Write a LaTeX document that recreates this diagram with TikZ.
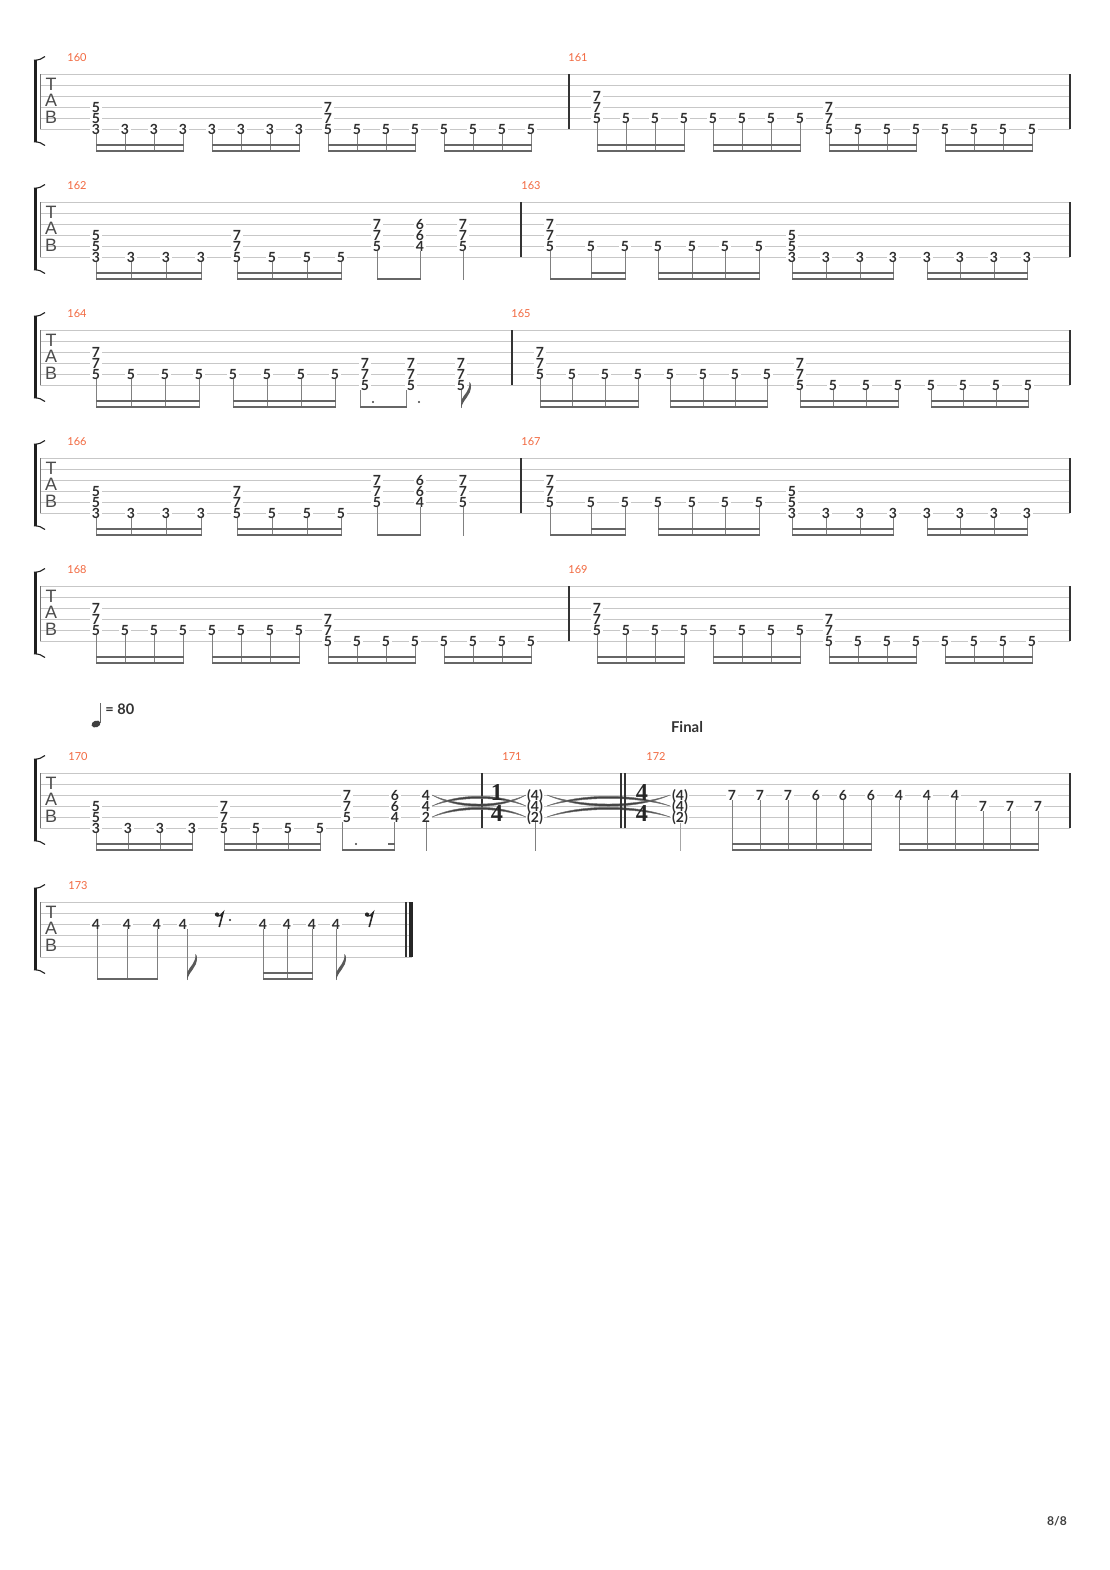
\documentclass[tikz,border=0pt]{standalone}
\usepackage{fontspec}
\usepackage{tikz}

\newfontfamily\latofam{Lato}
\newfontfamily\libsans{Liberation Sans}
\newfontfamily\libserif{Liberation Serif}
\newcommand{\fretfont}{\latofam\bfseries\fontsize{7.5}{8}\selectfont}
\newcommand{\mnumfont}{\latofam\fontsize{5.9}{6}\selectfont}
\newcommand{\tabfont}{\libsans\fontsize{9.6}{10}\selectfont}
\newcommand{\tsigfont}{\libserif\bfseries\fontsize{13}{13}\selectfont}
\definecolor{numorange}{RGB}{242,105,64}

\tikzset{
  staffline/.style={draw=black!22, line width=0.5pt},
  barline/.style={draw=black!80, line width=0.65pt},
  fret/.style={font=\fretfont, text=black!82, fill=white, inner xsep=0.8pt, inner ysep=0.1pt, text height=5.4pt, text depth=0pt},
  stem/.style={draw=black!50, line width=0.5pt},
  beam/.style={fill=black!60},
  mnum/.style={font=\mnumfont, text=numorange, inner sep=0pt},
  tabl/.style={font=\tabfont, text=black!70, inner sep=0pt},
  tsig/.style={font=\tsigfont, text=black!85, inner sep=0pt, text height=8.6pt, text depth=0pt},
  tiefill/.style={fill=black!75, draw=black!55, line width=0.25pt},
}

% staff with bracket and TAB letters
\newcommand{\tabstaff}[2]{%
  \foreach \k in {0,...,5} {\draw[staffline] (40,11*\k) -- (#2,11*\k);}
  \draw[staffline, draw=black!55] (40,0) -- (40,55);
  \fill[black!88] (33.5,-14) rectangle (36.5,68);
  \draw[black!88, line width=0.6pt] (34,-13.7) .. controls (39,-14) and (42,-15) .. (45,-17.5);
  \draw[black!88, line width=0.6pt] (34,67.7) .. controls (39,68) and (42,69) .. (45,71.5);
  \node[tabl] (#1T) at (51,10) {T};
  \node[tabl] (#1A) at (51,26.5) {A};
  \node[tabl] (#1B) at (51,43) {B};
}
\newcommand{\fretrow}[4]{\foreach \nx in {#3} {\node[fret] (#1-\nx-#2) at (\nx,{11*(#2-1)}) {#4};}}
\newcommand{\stemrow}[2]{\foreach \nx in {#2} {\draw[stem] (\nx,{11*(#1-1)+5}) -- (\nx,78.2);}}
\newcommand{\pbeam}[2]{\fill[beam] (#1-0.5,75.8) rectangle (#2+0.5,78.2);}
\newcommand{\sbeam}[2]{\fill[beam] (#1-0.5,69.8) rectangle (#2+0.5,72.2);}
\newcommand{\dbeam}[2]{\pbeam{#1}{#2}\sbeam{#1}{#2}}
\newcommand{\flagat}[1]{\fill[black!65] (#1,78.2) .. controls (#1+2,69) and (#1+10,66) .. (#1+10,56) .. controls (#1+10,54) and (#1+9.5,53) .. (#1+8.5,52) .. controls (#1+9,61) and (#1+3,64) .. (#1+0.4,70) -- cycle;}
\newcommand{\eighthrest}[1]{\fill[black!85] (#1,12.5) circle (2.1); \draw[black!85, line width=0.85pt] (#1,13.8) .. controls (#1+2.5,14.8) and (#1+4.5,13.2) .. (#1+6,10.8) -- (#1+2.2,25);}
\newcommand{\tiecurve}[5]{%
  \pgfmathsetmacro{\tca}{#1+0.28*(#2-#1)}%
  \pgfmathsetmacro{\tcb}{#2-0.28*(#2-#1)}%
  \filldraw[tiefill] (#1,#3) .. controls (\tca,#4) and (\tcb,#4) .. (#2,#3) .. controls (\tcb,#5) and (\tca,#5) .. (#1,#3) -- cycle;}
\newcommand{\tieset}[2]{\tiecurve{#1}{#2}{22}{37}{34}\tiecurve{#1}{#2}{33}{20}{23}\tiecurve{#1}{#2}{44}{31}{34}}

% measure 161 / 169
\newcommand{\barsixone}[1]{%
  \fretrow{#1}{3}{597}{7}
  \fretrow{#1}{4}{597}{7}
  \fretrow{#1}{5}{597,626,655,684,713,742,771,800}{5}
  \fretrow{#1}{4}{829}{7}
  \fretrow{#1}{5}{829}{7}
  \fretrow{#1}{6}{829,858,887,916,945,974,1003,1032}{5}
  \stemrow{5}{597,626,655,684,713,742,771,800}
  \stemrow{6}{829,858,887,916,945,974,1003,1032}
  \dbeam{597}{684}\dbeam{713}{800}\dbeam{829}{916}\dbeam{945}{1032}}

% measures 162-163 / 166-167
\newcommand{\barsixtwo}[1]{%
  \fretrow{#1}{4}{96}{5}
  \fretrow{#1}{5}{96}{5}
  \fretrow{#1}{6}{96,131,166,201}{3}
  \fretrow{#1}{4}{237}{7}
  \fretrow{#1}{5}{237}{7}
  \fretrow{#1}{6}{237,272,307,341}{5}
  \fretrow{#1}{3}{377,463}{7}
  \fretrow{#1}{4}{377,463}{7}
  \fretrow{#1}{5}{377,463}{5}
  \fretrow{#1}{3}{420}{6}
  \fretrow{#1}{4}{420}{6}
  \fretrow{#1}{5}{420}{4}
  \stemrow{6}{96,131,166,201,237,272,307,341}
  \stemrow{5}{377,420,463}
  \dbeam{96}{201}\dbeam{237}{341}\pbeam{377}{420}
  \draw[barline] (521,0) -- (521,55);
  \fretrow{#1}{3}{550}{7}
  \fretrow{#1}{4}{550}{7}
  \fretrow{#1}{5}{550,591,625,658,692,725,759}{5}
  \fretrow{#1}{4}{792}{5}
  \fretrow{#1}{5}{792}{5}
  \fretrow{#1}{6}{792,826,860,893,927,960,994,1027}{3}
  \stemrow{5}{550,591,625,658,692,725,759}
  \stemrow{6}{792,826,860,893,927,960,994,1027}
  \pbeam{550}{625}\sbeam{591}{625}\dbeam{658}{759}\dbeam{792}{893}\dbeam{927}{1027}
  \draw[barline] (1070,0) -- (1070,55);}

\begin{document}
\begin{tikzpicture}[x=0.5363pt,y=-0.5363pt]
\useasboundingbox (0,0) rectangle (1110,1570);
\fill[white] (0,0) rectangle (1110,1570);

% 160 - 161
\begin{scope}[shift={(0,74)}]
  \tabstaff{a}{1070}
  \node[mnum] (m160) at (77,-16) {160};
  \node[mnum] (m161) at (578,-16) {161};
  \fretrow{a}{4}{96}{5}
  \fretrow{a}{5}{96}{5}
  \fretrow{a}{6}{96,125,154,183,212,241,270,299}{3}
  \fretrow{a}{4}{328}{7}
  \fretrow{a}{5}{328}{7}
  \fretrow{a}{6}{328,357,386,415,444,473,502,531}{5}
  \stemrow{6}{96,125,154,183,212,241,270,299,328,357,386,415,444,473,502,531}
  \dbeam{96}{183}\dbeam{212}{299}\dbeam{328}{415}\dbeam{444}{531}
  \draw[barline] (569,0) -- (569,55);
  \barsixone{a}
  \draw[barline] (1070,0) -- (1070,55);
\end{scope}

% 162 - 163
\begin{scope}[shift={(0,202)}]
  \tabstaff{b}{1070}
  \node[mnum] (m162) at (77,-16) {162};
  \node[mnum] (m163) at (531,-16) {163};
  \barsixtwo{b}
\end{scope}

% 164 - 165
\begin{scope}[shift={(0,330)}]
  \tabstaff{c}{1070}
  \node[mnum] (m164) at (77,-16) {164};
  \node[mnum] (m165) at (521,-16) {165};
  \fretrow{c}{3}{96}{7}
  \fretrow{c}{4}{96}{7}
  \fretrow{c}{5}{96,131,165,199,233,267,301,335}{5}
  \fretrow{c}{4}{365,411,461}{7}
  \fretrow{c}{5}{365,411,461}{7}
  \fretrow{c}{6}{365,411,461}{5}
  \stemrow{5}{96,131,165,199,233,267,301,335}
  \stemrow{6}{360,406,461}
  \dbeam{96}{199}\dbeam{233}{335}\pbeam{360}{406}
  \fill[black!75] (373,72) circle (1.2);
  \fill[black!75] (419,72) circle (1.2);
  \flagat{461}
  \draw[barline] (512,0) -- (512,55);
  \fretrow{c}{3}{540}{7}
  \fretrow{c}{4}{540}{7}
  \fretrow{c}{5}{540,572,605,638,670,703,735,767}{5}
  \fretrow{c}{4}{800}{7}
  \fretrow{c}{5}{800}{7}
  \fretrow{c}{6}{800,833,866,898,931,963,996,1028}{5}
  \stemrow{5}{540,572,605,638,670,703,735,767}
  \stemrow{6}{800,833,866,898,931,963,996,1028}
  \dbeam{540}{638}\dbeam{670}{767}\dbeam{800}{898}\dbeam{931}{1028}
  \draw[barline] (1070,0) -- (1070,55);
\end{scope}

% 166 - 167
\begin{scope}[shift={(0,458)}]
  \tabstaff{d}{1070}
  \node[mnum] (m166) at (77,-16) {166};
  \node[mnum] (m167) at (531,-16) {167};
  \barsixtwo{d}
\end{scope}

% 168 - 169
\begin{scope}[shift={(0,586)}]
  \tabstaff{e}{1070}
  \node[mnum] (m168) at (77,-16) {168};
  \node[mnum] (m169) at (578,-16) {169};
  \fretrow{e}{3}{96}{7}
  \fretrow{e}{4}{96}{7}
  \fretrow{e}{5}{96,125,154,183,212,241,270,299}{5}
  \fretrow{e}{4}{328}{7}
  \fretrow{e}{5}{328}{7}
  \fretrow{e}{6}{328,357,386,415,444,473,502,531}{5}
  \stemrow{5}{96,125,154,183,212,241,270,299}
  \stemrow{6}{328,357,386,415,444,473,502,531}
  \dbeam{96}{183}\dbeam{212}{299}\dbeam{328}{415}\dbeam{444}{531}
  \draw[barline] (569,0) -- (569,55);
  \barsixone{e}
  \draw[barline] (1070,0) -- (1070,55);
\end{scope}

% tempo and section
\fill[black!75, rotate around={20:(96,724)}] (96,724) ellipse (4.6 and 3.3);
\draw[black!60, line width=0.5pt] (100.2,703) -- (100.2,723);
\node[font=\latofam\bfseries\fontsize{7.8}{8}\selectfont, text=black!80, anchor=west, inner sep=0pt] (bpm) at (105,709) {= 80};
\node[font=\latofam\bfseries\fontsize{8}{8}\selectfont, text=black!80, inner sep=0pt] (final) at (687,727) {Final};

% 170 - 172
\begin{scope}[shift={(0,773)}]
  \tabstaff{f}{1070}
  \node[mnum] (m170) at (78,-16) {170};
  \node[mnum] (m171) at (512,-16) {171};
  \node[mnum] (m172) at (656,-16) {172};
  \fretrow{f}{4}{96}{5}
  \fretrow{f}{5}{96}{5}
  \fretrow{f}{6}{96,128,160,192}{3}
  \fretrow{f}{4}{224}{7}
  \fretrow{f}{5}{224}{7}
  \fretrow{f}{6}{224,256,288,320}{5}
  \fretrow{f}{3}{347}{7}
  \fretrow{f}{4}{347}{7}
  \fretrow{f}{5}{347}{5}
  \fretrow{f}{3}{395}{6}
  \fretrow{f}{4}{395}{6}
  \fretrow{f}{5}{395}{4}
  \fretrow{f}{3}{426}{4}
  \fretrow{f}{4}{426}{4}
  \fretrow{f}{5}{426}{2}
  \stemrow{6}{96,128,160,192,224,256,288,320}
  \stemrow{5}{342,394,426}
  \dbeam{96}{192}\dbeam{224}{320}\pbeam{342}{394}\sbeam{388}{394}
  \fill[black!75] (356,71) circle (1.2);
  \draw[barline] (482,0) -- (482,55);
  \fretrow{f}{3}{535}{(4)}
  \fretrow{f}{4}{535}{(4)}
  \fretrow{f}{5}{535}{(2)}
  \stemrow{5}{535}
  \tieset{432}{526}
  \tieset{547}{670}
  \node[tsig] (ts1n) at (497,19.5) {1};
  \node[tsig] (ts1d) at (497,40) {4};
  \draw[barline] (621,0) -- (621,55);
  \draw[barline] (625,0) -- (625,55);
  \node[tsig] (ts2n) at (642,19.5) {4};
  \node[tsig] (ts2d) at (642,40) {4};
  \fretrow{f}{3}{680}{(4)}
  \fretrow{f}{4}{680}{(4)}
  \fretrow{f}{5}{680}{(2)}
  \draw[stem, draw=black!35] (680,50) -- (680,78.2);
  \fretrow{f}{3}{732,760,788}{7}
  \fretrow{f}{3}{816,843,871}{6}
  \fretrow{f}{3}{899,927,955}{4}
  \fretrow{f}{4}{983,1010,1038}{7}
  \stemrow{3}{732,760,788,816,843,871,899,927,955}
  \stemrow{4}{983,1010,1038}
  \dbeam{732}{871}\dbeam{899}{1038}
  \draw[barline] (1070,0) -- (1070,55);
\end{scope}

% 173
\begin{scope}[shift={(0,902)}]
  \tabstaff{g}{412}
  \node[mnum] (m173) at (78,-16) {173};
  \fretrow{g}{3}{96,127,157,183,263,287,312,336}{4}
  \stemrow{3}{97,127,157,187,263,287,312,336}
  \pbeam{97}{157}\dbeam{263}{312}
  \flagat{187}
  \flagat{336}
  \eighthrest{217}
  \fill[black!85] (230,18) circle (1.2);
  \eighthrest{367}
  \draw[barline] (406,0) -- (406,55);
  \fill[black!85] (408.5,0) rectangle (412.5,55);
\end{scope}

\node[font=\latofam\bfseries\fontsize{6.5}{7}\selectfont, text=black!75, inner sep=0pt] (page) at (1057,1521) {8/8};
\end{tikzpicture}
\end{document}
